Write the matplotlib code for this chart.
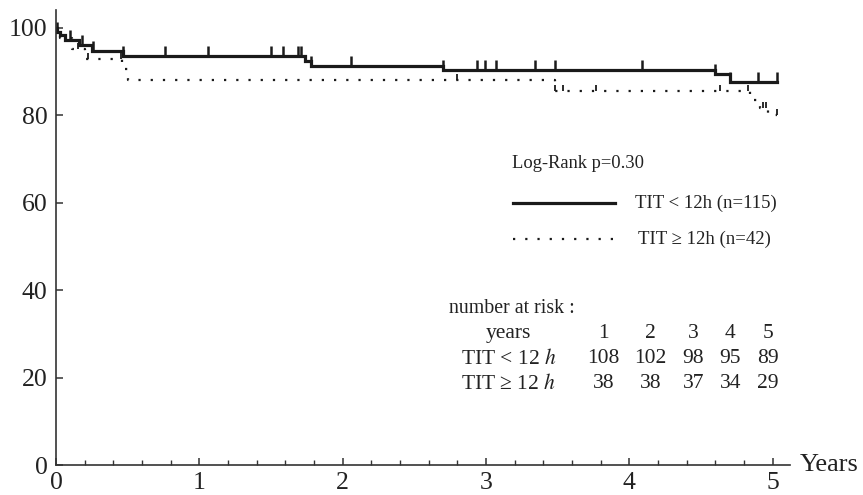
import numpy as np
import matplotlib.pyplot as plt
from matplotlib.ticker import MultipleLocator

plt.rcParams["font.family"] = ["Liberation Serif", "DejaVu Serif"]
plt.rcParams["mathtext.fontset"] = "stix"

# ── Kaplan-Meier steps ────────────────────────────────────────────────────────
lt12_t = [0, 0.01, 0.03, 0.06, 0.16, 0.25, 0.47, 1.74, 1.78, 2.70, 4.60, 4.70, 5.03]
lt12_s = [100, 99.1, 98.3, 97.2, 96.0, 94.6, 93.4, 92.3, 91.2, 90.3, 89.3, 87.6, 87.6]
lt12_cens = [0.01, 0.10, 0.18, 0.26, 0.47, 0.76, 1.06, 1.50, 1.58, 1.69, 1.71,
             1.78, 2.06, 2.70, 2.94, 2.99, 3.07, 3.34, 3.48, 4.09, 4.60, 4.70,
             4.90, 5.03]

ge12_t = [0, 0.03, 0.11, 0.20, 0.46, 0.50, 3.48, 4.84, 4.91, 4.97, 5.03]
ge12_s = [100, 97.6, 95.2, 92.9, 90.5, 88.1, 85.6, 83.4, 81.6, 80.0, 80.0]
ge12_cens = [0.15, 0.22, 0.45, 2.80, 3.48, 3.54, 3.77, 4.63, 4.83, 4.93, 4.95, 5.03]

# number at risk table
risk_years = [1, 2, 3, 4, 5]
risk_lt12 = [108, 102, 98, 95, 89]
risk_ge12 = [38, 38, 37, 34, 29]

x_ticks = [0, 1, 2, 3, 4, 5]
y_ticks = [0, 20, 40, 60, 80, 100]

INK = "#1a1a1a"
TXT = "#222222"
DOTS = (0, (1, 4.5))


def level_at(t_steps, s_steps, times):
    idx = np.searchsorted(t_steps, times, side="right") - 1
    return np.array(s_steps)[idx]


tick_up = [(0, 0), (0, 1)]

fig = plt.figure(figsize=(8.63, 4.95), dpi=100)
ax = fig.add_axes([0.0649, 0.0606, 0.8505, 0.919])

# solid curve
ax.step(lt12_t, lt12_s, where="post", color=INK, lw=2.3, solid_joinstyle="miter")
ax.plot(lt12_cens, level_at(lt12_t, lt12_s, lt12_cens), ls="none",
        marker=tick_up, ms=14, mew=1.8, color=INK)

# dotted curve
ax.step(ge12_t, ge12_s, where="post", color=INK, lw=1.6, ls=DOTS)
ax.plot(ge12_cens, level_at(ge12_t, ge12_s, ge12_cens), ls="none",
        marker=tick_up, ms=9, mew=1.3, color=INK)

ax.set_xlim(0, 5.12)
ax.set_ylim(0, 104)
for side in ["top", "right"]:
    ax.spines[side].set_visible(False)
for side in ["left", "bottom"]:
    ax.spines[side].set_color("#333333")
    ax.spines[side].set_linewidth(1.2)

ax.set_xticks(x_ticks)
ax.set_yticks(y_ticks)
ax.xaxis.set_minor_locator(MultipleLocator(0.2))
ax.tick_params(axis="both", which="major", direction="in", length=5, width=1.1,
               colors="#333333", labelsize=18.5, labelcolor=TXT)
ax.tick_params(axis="x", which="minor", direction="in", length=3.5, width=1.0,
               colors="#333333")
ax.tick_params(axis="x", which="major", pad=5)
ax.tick_params(axis="y", which="major", pad=6)

ax.text(5.19, 0, "Years", fontsize=19, color=TXT, va="center", ha="left",
        clip_on=False)

# legend block
ax.text(3.18, 69.0, "Log-Rank p=0.30", fontsize=13.3, color=TXT, va="center")
ax.plot([3.19, 3.90], [59.9, 59.9], color=INK, lw=2.3)
ax.text(4.04, 59.9, "TIT < 12h (n=115)", fontsize=13.5, color=TXT, va="center")
ax.plot([3.19, 3.91], [51.7, 51.7], color=INK, lw=1.6, ls=DOTS)
ax.text(4.06, 51.7, "TIT \u2265 12h (n=42)", fontsize=13.5, color=TXT, va="center")

# number at risk table
ax.text(2.74, 35.7, "number at risk :", fontsize=14.3, color=TXT, va="center")
row_y = [30.0, 24.3, 18.6]
ax.text(3.155, row_y[0], "years", fontsize=15.5, ha="center", va="center", color=TXT)
ax.text(3.155, row_y[1], "TIT < 12 $h$", fontsize=15.5, ha="center", va="center", color=TXT)
ax.text(3.155, row_y[2], "TIT \u2265 12 $h$", fontsize=15.5, ha="center", va="center", color=TXT)
col_x = [3.82, 4.145, 4.445, 4.705, 4.965]
for cx, yr, a, b in zip(col_x, risk_years, risk_lt12, risk_ge12):
    ax.text(cx, row_y[0], str(yr), fontsize=15.5, ha="center", va="center", color=TXT)
    ax.text(cx, row_y[1], str(a), fontsize=15.5, ha="center", va="center", color=TXT)
    ax.text(cx, row_y[2], str(b), fontsize=15.5, ha="center", va="center", color=TXT)

fig.savefig("out.png", dpi=100)
